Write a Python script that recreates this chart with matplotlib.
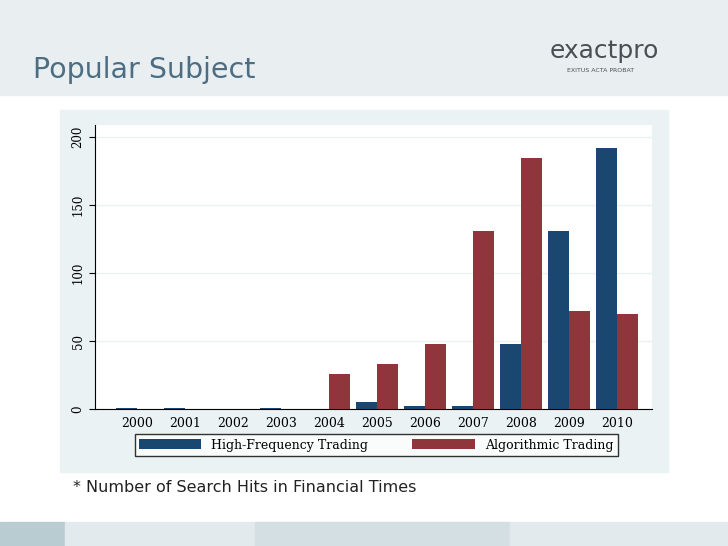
import matplotlib.pyplot as plt
import numpy as np
from matplotlib.patches import Rectangle

years = ['2000', '2001', '2002', '2003', '2004', '2005', '2006', '2007', '2008', '2009', '2010']
hft = [1, 1, 0, 1, 0, 5, 2, 2, 48, 131, 192]
algo = [0, 0, 0, 0, 26, 33, 48, 131, 185, 72, 70]
yticks = [0, 50, 100, 150, 200]

navy = '#1a476f'
maroon = '#90353b'

fig = plt.figure(figsize=(7.28, 5.46), dpi=100)
fig.patch.set_facecolor('white')

# header band, chart panel, footer strip
fig.add_artist(Rectangle((0, 1 - 95 / 546), 1, 95 / 546, transform=fig.transFigure, color='#e9eff1', zorder=0))
fig.add_artist(Rectangle((60 / 728, 1 - 472 / 546), 608 / 728, 362 / 546, transform=fig.transFigure,
                         color='#eaf2f3', zorder=0))
foot = [(0, 65, '#b9ccd2'), (65, 255, '#e3eaed'), (255, 510, '#d3dfe3'), (510, 728, '#e3eaed')]
for x0, x1, c in foot:
    fig.add_artist(Rectangle((x0 / 728, 0), (x1 - x0) / 728, 24 / 546, transform=fig.transFigure, color=c, zorder=0))

fig.text(33 / 728, 1 - 78 / 546, 'Popular Subject', fontsize=20.5, color='#4d6d82', va='baseline')
fig.text(550 / 728, 1 - 58 / 546, 'exactpro', fontsize=18, color='#4a4f55', va='baseline')
fig.text(567 / 728, 1 - 72 / 546, 'EXITUS ACTA PROBAT', fontsize=4.5, color='#4a4f55', va='baseline')
fig.text(73 / 728, 1 - 492 / 546, '* Number of Search Hits in Financial Times', fontsize=11.5, color='#222222')

ax = fig.add_axes([95 / 728, 1 - 409 / 546, 557 / 728, 284 / 546])
ax.set_facecolor('white')
x = np.arange(len(years))
w = 0.44
ax.bar(x - w / 2, hft, w, color=navy, label='High-Frequency Trading', zorder=3)
ax.bar(x + w / 2, algo, w, color=maroon, label='Algorithmic Trading', zorder=3)
ax.set_xlim(-0.875, 10.73)
ax.set_ylim(0, 209)
ax.set_xticks(x)
ax.set_xticklabels(years, fontfamily='DejaVu Serif', fontsize=9)
ax.set_yticks(yticks)
ax.set_yticklabels([str(v) for v in yticks], rotation=90, va='center', fontfamily='DejaVu Serif', fontsize=8.5)
ax.tick_params(axis='x', length=0, pad=6)
ax.tick_params(axis='y', length=4)
ax.grid(axis='y', color='#eaf2f3', linewidth=1, zorder=0)
for s in ['top', 'right']:
    ax.spines[s].set_visible(False)

fig.legend(loc='center', bbox_to_anchor=(376 / 728, 1 - 445 / 546), ncol=2, frameon=True, fancybox=False,
           edgecolor='black', prop={'family': 'DejaVu Serif', 'size': 9}, handlelength=5, handleheight=0.9,
           columnspacing=3.5, borderpad=0.35)

fig.savefig('out.png', dpi=100)
